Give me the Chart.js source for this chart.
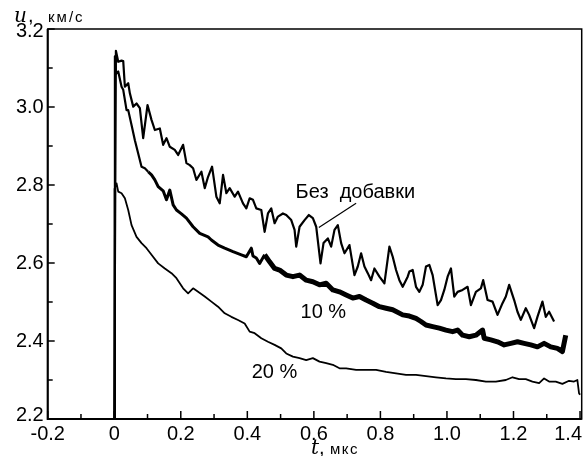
<!DOCTYPE html>
<html>
<head>
<meta charset="utf-8">
<script src="https://cdn.jsdelivr.net/npm/chart.js@4/dist/chart.umd.min.js"></script>
<style>
  html, body { margin: 0; padding: 0; background: #fff; }
  canvas { display: block; }
</style>
</head>
<body>
<canvas id="chart" width="583" height="456"></canvas>
<script>
// Без добавки
const t0 = [0, 0.005, 0.012, 0.022, 0.027, 0.032, 0.042, 0.047, 0.057, 0.067,
  0.077, 0.087, 0.100, 0.112, 0.122, 0.137, 0.147, 0.157, 0.167, 0.182,
  0.192, 0.207, 0.217, 0.227, 0.237, 0.247, 0.262, 0.272, 0.282, 0.294,
  0.307, 0.317, 0.327, 0.337, 0.347, 0.362, 0.372, 0.387, 0.397, 0.407,
  0.417, 0.427, 0.442, 0.452, 0.462, 0.472, 0.482, 0.492, 0.507, 0.517,
  0.532, 0.542, 0.547, 0.557, 0.572, 0.585, 0.597, 0.607, 0.620, 0.629,
  0.642, 0.652, 0.662, 0.672, 0.682, 0.692, 0.707, 0.722, 0.732, 0.742,
  0.752, 0.762, 0.772, 0.782, 0.797, 0.812, 0.827, 0.837, 0.847, 0.857,
  0.867, 0.882, 0.887, 0.897, 0.907, 0.917, 0.927, 0.937, 0.947, 0.957,
  0.972, 0.982, 0.992, 1.002, 1.012, 1.022, 1.032, 1.047, 1.062, 1.072,
  1.087, 1.102, 1.109, 1.122, 1.137, 1.152, 1.167, 1.177, 1.187, 1.202,
  1.212, 1.222, 1.237, 1.247, 1.262, 1.272, 1.287, 1.297, 1.307, 1.322]
const u0 = [2.2, 3.144, 3.116, 3.119, 3.118, 3.052, 3.061, 3.035, 3.001, 3.009,
  2.997, 2.920, 3.005, 2.967, 2.941, 2.945, 2.903, 2.920, 2.898, 2.890,
  2.877, 2.903, 2.856, 2.851, 2.843, 2.813, 2.834, 2.792, 2.821, 2.847,
  2.770, 2.753, 2.826, 2.779, 2.792, 2.770, 2.783, 2.753, 2.740, 2.766,
  2.762, 2.740, 2.736, 2.680, 2.727, 2.740, 2.702, 2.719, 2.727, 2.723,
  2.710, 2.685, 2.642, 2.693, 2.710, 2.723, 2.715, 2.693, 2.599, 2.651,
  2.663, 2.642, 2.685, 2.697, 2.651, 2.625, 2.646, 2.569, 2.591, 2.625,
  2.591, 2.574, 2.556, 2.586, 2.565, 2.548, 2.642, 2.616, 2.582, 2.556,
  2.539, 2.565, 2.578, 2.582, 2.539, 2.526, 2.544, 2.591, 2.595, 2.569,
  2.492, 2.505, 2.531, 2.565, 2.586, 2.514, 2.526, 2.531, 2.539, 2.492,
  2.526, 2.535, 2.556, 2.505, 2.501, 2.467, 2.497, 2.514, 2.544, 2.505,
  2.475, 2.454, 2.484, 2.467, 2.433, 2.462, 2.501, 2.462, 2.475, 2.450]

// 10 %
const t1 = [0, 0.002, 0.005, 0.012, 0.022, 0.027, 0.037, 0.042, 0.052, 0.062,
  0.072, 0.082, 0.092, 0.102, 0.112, 0.122, 0.132, 0.147, 0.157, 0.167,
  0.177, 0.187, 0.202, 0.217, 0.237, 0.257, 0.282, 0.292, 0.312, 0.332,
  0.357, 0.382, 0.397, 0.412, 0.417, 0.427, 0.437, 0.452, 0.467, 0.482,
  0.497, 0.517, 0.537, 0.557, 0.577, 0.597, 0.617, 0.637, 0.657, 0.677,
  0.697, 0.717, 0.737, 0.757, 0.777, 0.797, 0.817, 0.837, 0.867, 0.887,
  0.907, 0.922, 0.937, 0.957, 0.977, 0.997, 1.017, 1.032, 1.047, 1.067,
  1.087, 1.107, 1.112, 1.132, 1.152, 1.172, 1.192, 1.212, 1.232, 1.252,
  1.272, 1.292, 1.312, 1.332, 1.347, 1.357]
const u1 = [2.2, 3.13, 3.085, 3.091, 3.052, 3.044, 2.992, 2.992, 2.954, 2.915,
  2.881, 2.847, 2.843, 2.834, 2.826, 2.813, 2.796, 2.785, 2.762, 2.787,
  2.749, 2.736, 2.726, 2.715, 2.693, 2.676, 2.667, 2.659, 2.646, 2.638,
  2.629, 2.621, 2.616, 2.638, 2.618, 2.613, 2.599, 2.621, 2.603, 2.586,
  2.582, 2.569, 2.565, 2.569, 2.556, 2.552, 2.544, 2.548, 2.531, 2.526,
  2.518, 2.510, 2.514, 2.505, 2.497, 2.488, 2.484, 2.480, 2.467, 2.464,
  2.458, 2.450, 2.441, 2.437, 2.433, 2.428, 2.424, 2.428, 2.415, 2.411,
  2.415, 2.428, 2.407, 2.403, 2.398, 2.390, 2.394, 2.398, 2.394, 2.390,
  2.385, 2.394, 2.385, 2.381, 2.373, 2.415]

// 20 %
const t2 = [0, 0.001, 0.007, 0.012, 0.022, 0.032, 0.042, 0.052, 0.067, 0.082,
  0.097, 0.112, 0.132, 0.152, 0.172, 0.187, 0.207, 0.222, 0.237, 0.252,
  0.272, 0.292, 0.312, 0.332, 0.352, 0.372, 0.392, 0.407, 0.422, 0.442,
  0.462, 0.482, 0.502, 0.517, 0.537, 0.557, 0.577, 0.597, 0.617, 0.637,
  0.657, 0.677, 0.697, 0.727, 0.757, 0.787, 0.817, 0.847, 0.877, 0.907,
  0.937, 0.967, 0.997, 1.027, 1.057, 1.087, 1.117, 1.147, 1.177, 1.197,
  1.217, 1.237, 1.257, 1.277, 1.292, 1.307, 1.327, 1.347, 1.367, 1.382,
  1.392, 1.397, 1.400]
const u2 = [2.2, 2.79, 2.804, 2.783, 2.779, 2.766, 2.736, 2.697, 2.667, 2.651,
  2.638, 2.621, 2.599, 2.586, 2.574, 2.561, 2.535, 2.522, 2.535, 2.526,
  2.514, 2.501, 2.488, 2.471, 2.462, 2.454, 2.445, 2.424, 2.420, 2.407,
  2.398, 2.390, 2.381, 2.368, 2.360, 2.356, 2.351, 2.356, 2.347, 2.343,
  2.339, 2.330, 2.330, 2.326, 2.326, 2.326, 2.321, 2.317, 2.313, 2.313,
  2.310, 2.307, 2.304, 2.302, 2.302, 2.300, 2.296, 2.296, 2.300, 2.307,
  2.302, 2.302, 2.296, 2.292, 2.304, 2.296, 2.296, 2.290, 2.298, 2.296,
  2.300, 2.266, 2.262]

// axes
const xTicks = [-0.2, 0, 0.2, 0.4, 0.6, 0.8, 1.0, 1.2, 1.4]
const xTickLabels = ['-0.2', '0', '0.2', '0.4', '0.6', '0.8', '1.0', '1.2', '1.4']
const yTicks = [2.2, 2.4, 2.6, 2.8, 3.0, 3.2]
const yTickLabels = ['2.2', '2.4', '2.6', '2.8', '3.0', '3.2']

// curve labels: text, anchor t, anchor u
const curveLabels = [
  { text: 'Без  добавки', t: 0.545, u: 2.767 },
  { text: '10 %', t: 0.560, u: 2.459 },
  { text: '20 %', t: 0.413, u: 2.305 }
]
const leader = { t: [0.615, 0.727], u: [2.691, 2.753] }

const toPoints = (ts, us) => ts.map((t, i) => ({ x: t, y: us[i] }))

const SANS = '"Liberation Sans", Arial, Helvetica, sans-serif'
const SERIF = '"DejaVu Serif", "Liberation Serif", serif'

// the noisy 10 % trace is drawn as a wider band once it settles
const bandWidth = ctx => {
  const t = ctx.p0.parsed.x
  if (t < 0.1) return 2.2
  if (t < 0.45) return 3
  return 5
}

// frame, inward ticks, tick labels, axis titles and curve labels
const frame = {
  id: 'frame',
  afterDatasetsDraw(chart) {
    const { ctx, chartArea: a, scales: { x, y } } = chart
    ctx.save()
    ctx.strokeStyle = '#000'
    ctx.fillStyle = '#000'

    ctx.lineWidth = 1.5
    ctx.strokeRect(a.left, a.top, a.right - a.left, a.bottom - a.top)
    ctx.lineWidth = 2
    ctx.beginPath()
    ctx.moveTo(a.left, a.top)
    ctx.lineTo(a.left, a.bottom)
    ctx.lineTo(a.right, a.bottom)
    ctx.stroke()

    // ticks (major on labels, minor halfway)
    ctx.lineWidth = 1.5
    xTicks.forEach((v, i) => {
      const px = x.getPixelForValue(v)
      ctx.beginPath()
      ctx.moveTo(px, a.bottom)
      ctx.lineTo(px, a.bottom - 8)
      ctx.stroke()
      if (i < xTicks.length - 1) {
        const mx = x.getPixelForValue((v + xTicks[i + 1]) / 2)
        ctx.beginPath()
        ctx.moveTo(mx, a.bottom)
        ctx.lineTo(mx, a.bottom - 5)
        ctx.stroke()
      }
    })
    yTicks.forEach((v, i) => {
      const py = y.getPixelForValue(v)
      ctx.beginPath()
      ctx.moveTo(a.left, py)
      ctx.lineTo(a.left + 7, py)
      ctx.stroke()
      if (i < yTicks.length - 1) {
        const my = y.getPixelForValue((v + yTicks[i + 1]) / 2)
        ctx.beginPath()
        ctx.moveTo(a.left, my)
        ctx.lineTo(a.left + 5, my)
        ctx.stroke()
      }
    })

    // tick labels
    ctx.font = '20px ' + SANS
    ctx.textAlign = 'center'
    ctx.textBaseline = 'alphabetic'
    xTicks.forEach((v, i) => {
      const w = ctx.measureText(xTickLabels[i]).width
      let cx = x.getPixelForValue(v)
      cx = Math.min(cx, chart.width - 1 - w / 2)
      ctx.fillText(xTickLabels[i], cx, a.bottom + 21)
    })
    ctx.textAlign = 'right'
    ctx.textBaseline = 'middle'
    yTicks.forEach((v, i) => {
      let cy = y.getPixelForValue(v)
      cy = Math.max(a.top + 2, Math.min(a.bottom - 4, cy))
      ctx.fillText(yTickLabels[i], a.left - 4, cy)
    })

    // axis titles
    ctx.textAlign = 'left'
    ctx.textBaseline = 'alphabetic'
    ctx.font = 'italic 20px ' + SERIF
    ctx.fillText('u', 14, 22)
    ctx.font = '20px ' + SANS
    ctx.fillText(',', 28, 22)
    ctx.font = '15px ' + SANS
    ctx.letterSpacing = '2px'
    ctx.fillText('км/с', 48, 22)
    ctx.letterSpacing = '0px'

    ctx.font = 'italic 20px ' + SERIF
    ctx.fillText('t', 311, 454)
    ctx.font = '20px ' + SANS
    ctx.fillText(',', 319, 454)
    ctx.font = '15px ' + SANS
    ctx.letterSpacing = '1.5px'
    ctx.fillText('мкс', 330, 454)
    ctx.letterSpacing = '0px'

    // curve labels
    ctx.font = '20px ' + SANS
    curveLabels.forEach(l => {
      ctx.fillText(l.text, x.getPixelForValue(l.t), y.getPixelForValue(l.u))
    })
    ctx.lineWidth = 1.2
    ctx.beginPath()
    ctx.moveTo(x.getPixelForValue(leader.t[0]), y.getPixelForValue(leader.u[0]))
    ctx.lineTo(x.getPixelForValue(leader.t[1]), y.getPixelForValue(leader.u[1]))
    ctx.stroke()
    ctx.restore()
  }
}

new Chart(document.getElementById('chart'), {
  type: 'scatter',
  data: {
    datasets: [
      { label: 'Без добавки', data: toPoints(t0, u0), borderWidth: 2.2 },
      { label: '10 %', data: toPoints(t1, u1), borderWidth: 2.2, segment: { borderWidth: bandWidth } },
      { label: '20 %', data: toPoints(t2, u2), borderWidth: 1.8 }
    ].map(d => ({
      ...d,
      showLine: true,
      borderColor: '#000',
      backgroundColor: '#000',
      pointRadius: 0,
      tension: 0,
      borderJoinStyle: 'round'
    }))
  },
  options: {
    responsive: false,
    animation: false,
    devicePixelRatio: 1,
    layout: { padding: { left: 47.7, top: 29, right: 1.3, bottom: 37 } },
    plugins: {
      legend: { display: false },
      tooltip: { enabled: false }
    },
    scales: {
      x: { type: 'linear', display: false, min: -0.2, max: 1.405 },
      y: { type: 'linear', display: false, min: 2.2, max: 3.2 }
    }
  },
  plugins: [frame]
})
</script>
</body>
</html>
